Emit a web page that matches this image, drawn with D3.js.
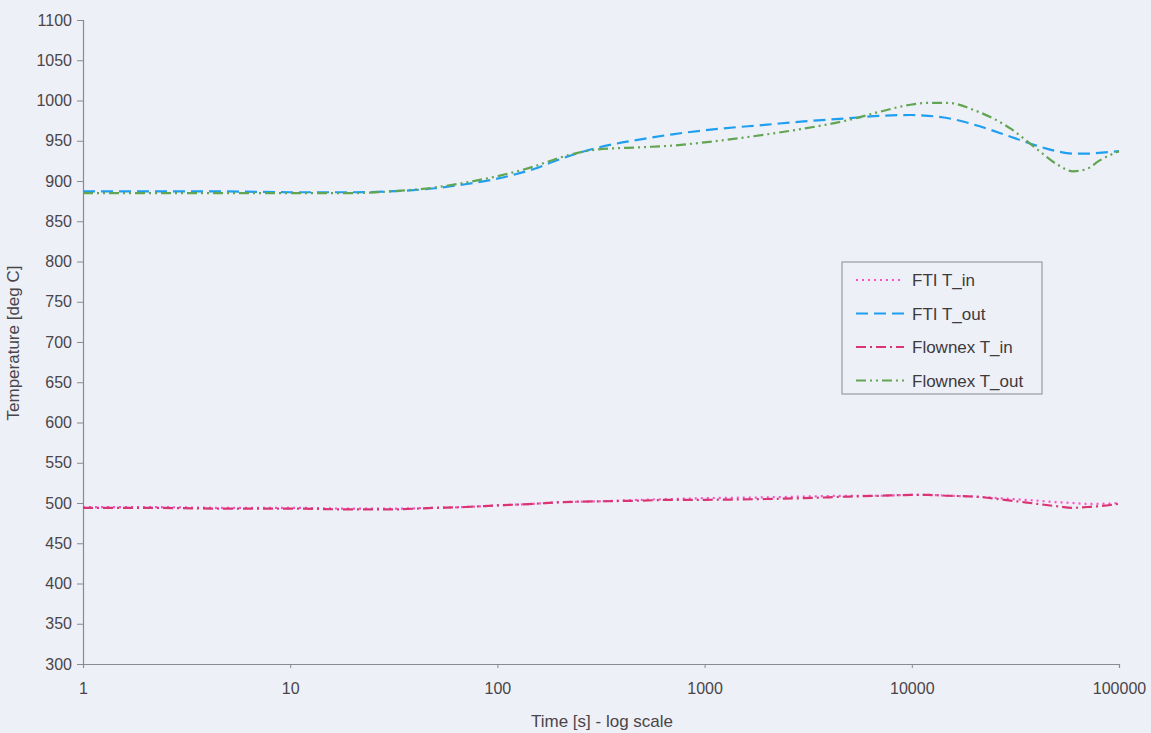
<!DOCTYPE html>
<html>
<head>
<meta charset="utf-8">
<script src="https://cdn.jsdelivr.net/npm/d3@7"></script>
<style>
  body { margin: 0; background: #eef0f8; }
  svg { display: block; font-family: "Liberation Sans", Arial, sans-serif; }
</style>
</head>
<body>
<script>
// time points (s) shared by all series
var times = [1, 2, 5, 10, 20, 30, 50, 70, 100, 150, 200, 300, 500, 700, 1000, 2000, 3000, 5000, 7000, 10000, 12000, 15000, 20000, 30000, 40000, 50000, 60000, 70000, 80000, 100000];

var ftiIn      = [495, 495, 494, 494, 493, 493, 494, 495, 497, 499, 501, 502, 504, 505, 506, 507, 508, 509, 509, 510, 510, 509, 508, 505, 503, 501, 500, 499, 499, 500];
var ftiOut     = [887, 887, 887, 886, 886, 887, 891, 896, 903, 915, 927, 941, 952, 958, 963, 970, 974, 978, 981, 982, 981, 978, 970, 955, 944, 937, 934, 934, 935, 937];
var flownexIn  = [494, 494, 493, 493, 492, 492, 494, 495, 497, 499, 501, 502, 503, 504, 504, 505, 506, 508, 509, 510, 510, 509, 508, 503, 499, 496, 494, 495, 496, 499];
var flownexOut = [885, 885, 885, 885, 885, 887, 892, 898, 906, 918, 929, 939, 942, 944, 948, 958, 965, 976, 986, 995, 997, 997, 988, 965, 940, 921, 912, 915, 925, 937];

var seriesNames = ["FTI T_in", "FTI T_out", "Flownex T_in", "Flownex T_out"];
var xTicks = [1, 10, 100, 1000, 10000, 100000];
var yTicks = d3.range(300, 1101, 50);

var w = 1151, h = 733;
var plotLeft = 83, plotRight = 1119, plotTop = 20, plotBottom = 664;
var textColor = "#4a4548";

var series = [
  {name: seriesNames[0], values: ftiIn,      color: "#ff4fc6", dash: "2,4"},
  {name: seriesNames[1], values: ftiOut,     color: "#1f9ff0", dash: "12,6"},
  {name: seriesNames[2], values: flownexIn,  color: "#d93570", dash: "10,4,2,4"},
  {name: seriesNames[3], values: flownexOut, color: "#62a552", dash: "10,4,2,4,2,4"}
];

var svg = d3.select("body").append("svg")
  .attr("width", w)
  .attr("height", h);

svg.append("rect").attr("width", w).attr("height", h).attr("fill", "#eef0f8");

var x = d3.scaleLog().domain([1, 100000]).range([plotLeft, plotRight]);
var y = d3.scaleLinear().domain([300, 1100]).range([plotBottom, plotTop]);

// y axis
var yAxis = svg.append("g")
  .attr("transform", "translate(" + plotLeft + ",0)")
  .call(d3.axisLeft(y).tickValues(yTicks).tickSize(6).tickPadding(5).tickFormat(d3.format("d")));

// x axis
var xAxis = svg.append("g")
  .attr("transform", "translate(0," + plotBottom + ")")
  .call(d3.axisBottom(x).tickValues(xTicks).tickSize(4).tickPadding(15).tickFormat(d3.format("d")));

[yAxis, xAxis].forEach(function(a) {
  a.select(".domain").attr("stroke", "#8a8a90").attr("stroke-width", 1.2);
  a.selectAll(".tick line").attr("stroke", "#8a8a90");
  a.selectAll(".tick text")
    .attr("fill", textColor)
    .style("font-size", "16px");
});

// axis titles
svg.append("text")
  .attr("x", 602)
  .attr("y", 727)
  .attr("text-anchor", "middle")
  .attr("fill", textColor)
  .style("font-size", "17px")
  .text("Time [s] - log scale");

svg.append("text")
  .attr("transform", "translate(19,343) rotate(-90)")
  .attr("text-anchor", "middle")
  .attr("fill", textColor)
  .style("font-size", "17px")
  .text("Temperature [deg C]");

// lines
var line = d3.line()
  .x(function(d) { return x(d[0]); })
  .y(function(d) { return y(d[1]); })
  .curve(d3.curveMonotoneX);

series.forEach(function(s) {
  svg.append("path")
    .datum(times.map(function(t, i) { return [t, s.values[i]]; }))
    .attr("fill", "none")
    .attr("stroke", s.color)
    .attr("stroke-width", 2.2)
    .attr("stroke-dasharray", s.dash)
    .attr("d", line);
});

// legend
var legend = svg.append("g").attr("transform", "translate(842,262)");
legend.append("rect")
  .attr("width", 200)
  .attr("height", 132)
  .attr("fill", "#eef0f8")
  .attr("stroke", "#8a8a90")
  .attr("stroke-width", 1);

series.forEach(function(s, i) {
  var ly = 18 + i * 33.5;
  legend.append("line")
    .attr("x1", 14).attr("x2", 62)
    .attr("y1", ly).attr("y2", ly)
    .attr("stroke", s.color)
    .attr("stroke-width", 2.2)
    .attr("stroke-dasharray", s.dash);
  legend.append("text")
    .attr("x", 70)
    .attr("y", ly + 6)
    .attr("fill", "#3e3a3c")
    .style("font-size", "17px")
    .text(s.name);
});
</script>
</body>
</html>
